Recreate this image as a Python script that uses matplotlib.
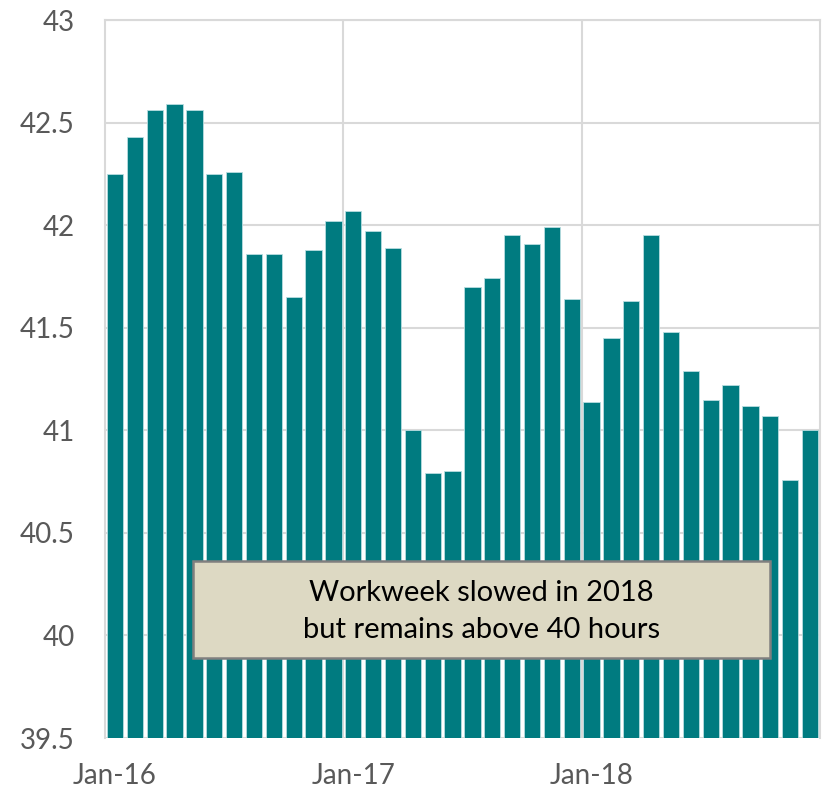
import matplotlib
matplotlib.use("Agg")
from matplotlib import pyplot as plt
from matplotlib.patches import Rectangle
import numpy as np

# average weekly hours, Jan-16 .. Dec-18
months = [f"{m}-{y}" for y in ("16", "17", "18")
          for m in ("Jan", "Feb", "Mar", "Apr", "May", "Jun",
                    "Jul", "Aug", "Sep", "Oct", "Nov", "Dec")]
hours = [42.25, 42.43, 42.56, 42.59, 42.56, 42.25, 42.26, 41.86, 41.86, 41.65, 41.88, 42.02,
         42.07, 41.97, 41.89, 41.00, 40.79, 40.80, 41.70, 41.74, 41.95, 41.91, 41.99, 41.64,
         41.14, 41.45, 41.63, 41.95, 41.48, 41.29, 41.15, 41.22, 41.12, 41.07, 40.76, 41.00]
yticks = [39.5, 40, 40.5, 41, 41.5, 42, 42.5, 43]
ytick_labels = ["39.5", "40", "40.5", "41", "41.5", "42", "42.5", "43"]
note = "Workweek slowed in 2018\nbut remains above 40 hours"

plt.rcParams['font.family'] = ['Lato', 'DejaVu Sans']

fig = plt.figure(figsize=(8.25, 7.94), dpi=100)
ax = fig.add_axes([0.1273, 0.0705, 0.8666, 0.9043])

x = np.arange(len(hours))
base = yticks[0]
ax.bar(x, np.array(hours) - base, bottom=base, width=0.82,
       color="#007B80", edgecolor="#B8DDE0", linewidth=0.6, zorder=3)

ax.set_xlim(-0.5, len(hours) - 0.5)
ax.set_ylim(yticks[0], yticks[-1])
ax.set_yticks(yticks)
ax.set_yticklabels(ytick_labels)

tick_pos = [i for i, m in enumerate(months) if m.startswith("Jan")]
ax.set_xticks(tick_pos)
ax.set_xticklabels([months[i] for i in tick_pos])
ax.tick_params(axis="both", length=0, labelsize=20, labelcolor="#595959")
ax.tick_params(axis="y", pad=22)
ax.tick_params(axis="x", pad=18)

ax.yaxis.grid(True, color="#D9D9D9", linewidth=1.5, zorder=0)
for p in tick_pos[1:]:
    ax.axvline(p - 0.5, color="#D9D9D9", linewidth=1.5, zorder=0)
for s in ax.spines.values():
    s.set_color("#D9D9D9")
    s.set_linewidth(1.5)
ax.spines["bottom"].set_visible(False)

# annotation box
ax.add_patch(Rectangle((0.123, 0.111), 0.807, 0.1355, transform=ax.transAxes,
                       facecolor="#DDD9C3", edgecolor="#7F7F7F", linewidth=1.8, zorder=5))
ax.text(0.5265, 0.176, note, transform=ax.transAxes, ha="center", va="center",
        fontsize=21, color="black", linespacing=1.5, zorder=6)

fig.savefig("out.png", dpi=100)
